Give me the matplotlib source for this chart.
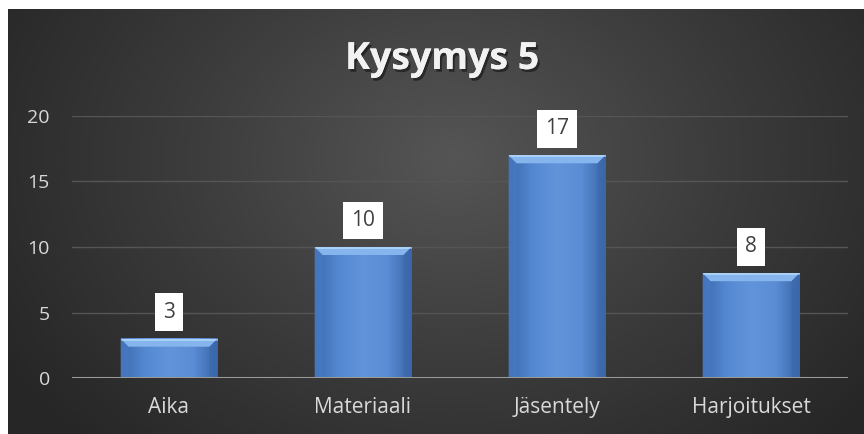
import numpy as np
import matplotlib
matplotlib.use("Agg")
import matplotlib.pyplot as plt
from matplotlib.patches import Polygon
from matplotlib.colors import LinearSegmentedColormap
import matplotlib.patheffects as pe

categories = ["Aika", "Materiaali", "Jäsentely", "Harjoitukset"]
values = [3, 10, 17, 8]
yticks = [0, 5, 10, 15, 20]
title = "Kysymys 5"

plt.rcParams['font.family'] = ['Open Sans', 'DejaVu Sans']

W, H = 864, 434
fig = plt.figure(figsize=(W / 100, H / 100), dpi=100)
fig.patch.set_facecolor("white")

# background panel with radial gradient
bg = fig.add_axes([8 / W, 0, 1 - 8 / W, 1 - 9 / H])
bg.set_axis_off()
nx, ny = 400, 200
xx, yy = np.meshgrid(np.linspace(0, 1, nx), np.linspace(0, 1, ny))
cx, cy = 0.52, 0.35
r = np.sqrt(((xx - cx) / 0.62) ** 2 + ((yy - cy) / 0.95) ** 2)
r = np.clip(r, 0, 1)
cmap_bg = LinearSegmentedColormap.from_list("bg", ["#555555", "#3c3c3c", "#262626"])
bg.imshow(r, cmap=cmap_bg, extent=[0, 1, 1, 0], aspect="auto", vmin=0, vmax=1)
bg.set_xlim(0, 1)
bg.set_ylim(1, 0)

# main axes
left, right = 72 / W, 848 / W
bottom = (H - 378) / H
top = (H - 116) / H
ax = fig.add_axes([left, bottom, right - left, top - bottom])
ax.patch.set_alpha(0)
ax.set_xlim(-0.5, len(categories) - 0.5)
ax.set_ylim(0, 20)
for s in ax.spines.values():
    s.set_visible(False)
ax.set_yticks(yticks)
ax.set_yticklabels([str(t) for t in yticks], fontsize=14, color="#d9d9d9")
ax.set_xticks(range(len(categories)))
ax.set_xticklabels(categories, fontsize=15, color="#d9d9d9")
ax.tick_params(length=0)
ax.tick_params(axis="y", pad=16)
ax.tick_params(axis="x", pad=14)
for t in yticks[1:]:
    ax.axhline(t, color="#555555", lw=1, zorder=0)
ax.axhline(0, color="#9a9a9a", lw=2.2, zorder=5)

bars = ax.bar(range(len(categories)), values, width=0.5, color="#5b8cd2", zorder=2)

# bar shading
fig.canvas.draw()
px_per_x = ax.bbox.width / 4.0
px_per_y = ax.bbox.height / 20.0
bev = 8
dx = bev / px_per_x
dy = bev / px_per_y
cmap_bar = LinearSegmentedColormap.from_list(
    "bar", ["#3e6cb0", "#5489d2", "#6294da", "#5a8dd5", "#3a66a8"])
grad = np.linspace(0, 1, 100)[None, :]
for b, v in zip(bars, values):
    x0 = b.get_x()
    w = b.get_width()
    h = b.get_height()
    b.set_visible(False)
    ax.imshow(grad, cmap=cmap_bar, extent=[x0, x0 + w, 0, h], aspect="auto", zorder=2)
    ax.set_xlim(-0.5, len(categories) - 0.5)
    ax.set_ylim(0, 20)
    # top bevel
    ax.add_patch(Polygon([[x0, h], [x0 + w, h], [x0 + w - dx, h - dy], [x0 + dx, h - dy]],
                         closed=True, facecolor="#86b4ec", edgecolor="none", zorder=3))
    ax.add_patch(Polygon([[x0, h], [x0 + w, h], [x0 + w, h - dy * 0.25], [x0, h - dy * 0.25]],
                         closed=True, facecolor="#a9d0f7", edgecolor="none", zorder=3))
    # side bevels
    ax.add_patch(Polygon([[x0, h], [x0 + dx, h - dy], [x0 + dx, 0], [x0, 0]],
                         closed=True, facecolor="#4a7cc4", edgecolor="none", zorder=3, alpha=0.6))
    ax.add_patch(Polygon([[x0 + w, h], [x0 + w - dx, h - dy], [x0 + w - dx, 0], [x0 + w, 0]],
                         closed=True, facecolor="#3b68ab", edgecolor="none", zorder=3, alpha=0.6))
    # value label
    ax.text(x0 + w / 2, h + 16 / px_per_y, str(v), ha="center", va="bottom",
            fontsize=15, color="#404040", zorder=6, clip_on=False,
            bbox=dict(boxstyle="square,pad=0.4", facecolor="white", edgecolor="none"))

fig.text(442 / W, 1 - 69 / H, title, ha="center", va="baseline", fontsize=27,
         fontweight="bold", color="#f2f2f2",
         path_effects=[pe.withSimplePatchShadow(offset=(1.5, -2), shadow_rgbFace="black", alpha=0.45), pe.Normal()])

fig.savefig("out.png", dpi=100, facecolor=fig.get_facecolor())
